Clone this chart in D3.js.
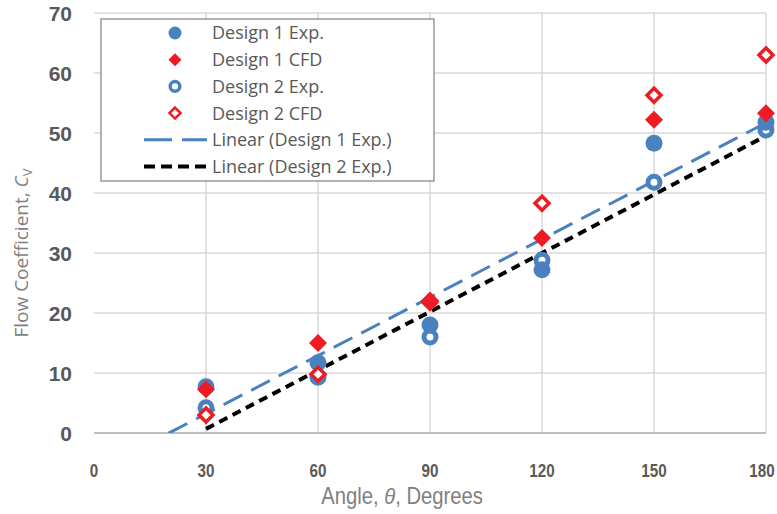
<!DOCTYPE html>
<html>
<head>
<meta charset="utf-8">
<script src="https://cdn.jsdelivr.net/npm/d3@7"></script>
<style>
  body { margin: 0; background: #fff; }
  text { fill: #595959; }
</style>
</head>
<body>
<div id="chart"></div>
<script>
// angles (degrees)
const angles = [30, 60, 90, 120, 150, 180];
// flow coefficient values
const d1Exp = [7.7, 11.7, 18.0, 27.2, 48.3, 51.8];
const d1Cfd = [7.3, 15.0, 21.7, 32.5, 52.2, 53.3];
const d2Exp = [4.2, 9.3, 16.0, 28.8, 41.8, 50.5];
const d2Cfd = [3.0, 9.8, 22.0, 38.3, 56.3, 63.0];
const xTicks = [0, 30, 60, 90, 120, 150, 180];
const yTicks = [0, 10, 20, 30, 40, 50, 60, 70];

const width = 777, height = 514;
const margin = {left: 94, right: 11, top: 13, bottom: 81};
const blue = "#4a81bf", red = "#ed1c24";

const svg = d3.select("#chart").append("svg")
    .attr("width", width).attr("height", height);

const x = d3.scaleLinear().domain([0, 180]).range([margin.left, width - margin.right]);
const y = d3.scaleLinear().domain([0, 70]).range([height - margin.bottom, margin.top]);

svg.append("clipPath").attr("id", "plot")
  .append("rect").attr("x", x(0)).attr("y", y(70) - 10)
  .attr("width", x(180) - x(0) + 10).attr("height", y(0) - y(70) + 10);

// grid
const grid = svg.append("g");
grid.selectAll(".hg").data(yTicks.slice(1)).enter().append("line")
  .attr("x1", x(0)).attr("x2", x(180))
  .attr("y1", d => y(d)).attr("y2", d => y(d))
  .attr("stroke", "#d9d9d9").attr("stroke-width", 1.5);
grid.selectAll(".vg").data(xTicks.slice(1)).enter().append("line")
  .attr("x1", d => x(d)).attr("x2", d => x(d))
  .attr("y1", y(0)).attr("y2", y(70))
  .attr("stroke", "#d9d9d9").attr("stroke-width", 1.5);
svg.append("line").attr("x1", x(0)).attr("x2", x(180))
  .attr("y1", y(0)).attr("y2", y(0))
  .attr("stroke", "#bfbfbf").attr("stroke-width", 2);

// y tick labels
svg.selectAll(".yl").data(yTicks).enter().append("text")
  .attr("x", 72).attr("y", d => y(d)).attr("dy", "0.36em")
  .attr("text-anchor", "end")
  .style("font", "bold 21px 'Liberation Sans', Arial, sans-serif")
  .text(d => d);

// x tick labels (narrow look: squeeze horizontally)
svg.selectAll(".xl").data(xTicks).enter().append("text")
  .attr("transform", d => `translate(${Math.min(x(d), 762)},477) scale(0.8,1)`)
  .attr("text-anchor", "middle")
  .style("font", "bold 19px 'Liberation Sans', Arial, sans-serif")
  .text(d => d);

// axis titles
svg.append("text").attr("transform", "translate(402,504) scale(0.88,1)")
  .attr("text-anchor", "middle")
  .style("font", "23px 'Liberation Sans', Arial, sans-serif")
  .style("fill", "#7f7f7f")
  .html("Angle, <tspan font-style='italic'>θ</tspan>, Degrees");

const yt = svg.append("text")
  .attr("transform", "translate(28,253) rotate(-90)")
  .attr("text-anchor", "middle")
  .style("font", "19px 'Open Sans', 'Liberation Sans', sans-serif")
  .style("fill", "#7f7f7f");
yt.append("tspan").text("Flow Coefficient, ");
yt.append("tspan").style("font-style", "italic").text("C");
yt.append("tspan").attr("dy", 4).style("font-size", "13px").text("V");

// linear trendlines (least squares)
function fit(xs, ys) {
  const mx = d3.mean(xs), my = d3.mean(ys);
  const sxy = d3.sum(xs, (v, i) => (v - mx) * (ys[i] - my));
  const sxx = d3.sum(xs, v => (v - mx) * (v - mx));
  const b = sxy / sxx;
  return {b: b, a: my - b * mx};
}
const f1 = fit(angles, d1Exp), f2 = fit(angles, d2Exp);
const trend = svg.append("g").attr("clip-path", "url(#plot)");
trend.append("line")
  .attr("x1", x(20)).attr("y1", y(f1.a + f1.b * 20))
  .attr("x2", x(180)).attr("y2", y(f1.a + f1.b * 180))
  .attr("stroke", blue).attr("stroke-width", 3)
  .attr("stroke-dasharray", "21 10");
trend.append("line")
  .attr("x1", x(30)).attr("y1", y(f2.a + f2.b * 30))
  .attr("x2", x(180)).attr("y2", y(f2.a + f2.b * 180))
  .attr("stroke", "#000").attr("stroke-width", 4)
  .attr("stroke-dasharray", "9 6");

// markers
const pts = svg.append("g");
const diamond = r => `M0,${-r}L${r},0L0,${r}L${-r},0Z`;

pts.selectAll(".d2e").data(angles).enter().append("circle")
  .attr("cx", d => x(d)).attr("cy", (d, i) => y(d2Exp[i]))
  .attr("r", 6).attr("fill", "#fff")
  .attr("stroke", blue).attr("stroke-width", 5);
pts.selectAll(".d1e").data(angles).enter().append("circle")
  .attr("cx", d => x(d)).attr("cy", (d, i) => y(d1Exp[i]))
  .attr("r", 8.5).attr("fill", blue);
pts.selectAll(".d2c").data(angles).enter().append("path")
  .attr("transform", (d, i) => `translate(${x(d)},${y(d2Cfd[i])})`)
  .attr("d", diamond(7)).attr("fill", "#fff")
  .attr("stroke", red).attr("stroke-width", 3.5);
pts.selectAll(".d1c").data(angles).enter().append("path")
  .attr("transform", (d, i) => `translate(${x(d)},${y(d1Cfd[i])})`)
  .attr("d", diamond(9)).attr("fill", red);

// legend
const lg = svg.append("g");
lg.append("rect").attr("x", 101).attr("y", 19).attr("width", 333).attr("height", 162)
  .attr("fill", "#fff").attr("stroke", "#808080").attr("stroke-width", 1.2);
const names = ["Design 1 Exp.", "Design 1 CFD", "Design 2 Exp.", "Design 2 CFD",
  "Linear (Design 1 Exp.)", "Linear (Design 2 Exp.)"];
const rowY = i => 33 + i * 26.7;
lg.selectAll(".lt").data(names).enter().append("text")
  .attr("x", 212)
  .attr("y", (d, i) => rowY(i)).attr("dy", "0.36em")
  .style("font", "18px 'Open Sans', 'Liberation Sans', sans-serif")
  .text(d => d);
lg.append("circle").attr("cx", 175).attr("cy", rowY(0)).attr("r", 6.5).attr("fill", blue);
lg.append("path").attr("transform", `translate(175,${rowY(1)})`).attr("d", diamond(6.5)).attr("fill", red);
lg.append("circle").attr("cx", 175).attr("cy", rowY(2)).attr("r", 4.8)
  .attr("fill", "#fff").attr("stroke", blue).attr("stroke-width", 3.5);
lg.append("path").attr("transform", `translate(175,${rowY(3)})`).attr("d", diamond(5.5))
  .attr("fill", "#fff").attr("stroke", red).attr("stroke-width", 2.5);
lg.append("line").attr("x1", 144).attr("x2", 207).attr("y1", rowY(4)).attr("y2", rowY(4))
  .attr("stroke", blue).attr("stroke-width", 3).attr("stroke-dasharray", "28 10");
lg.append("line").attr("x1", 144).attr("x2", 207).attr("y1", rowY(5)).attr("y2", rowY(5))
  .attr("stroke", "#000").attr("stroke-width", 4).attr("stroke-dasharray", "11 6");
</script>
</body>
</html>
